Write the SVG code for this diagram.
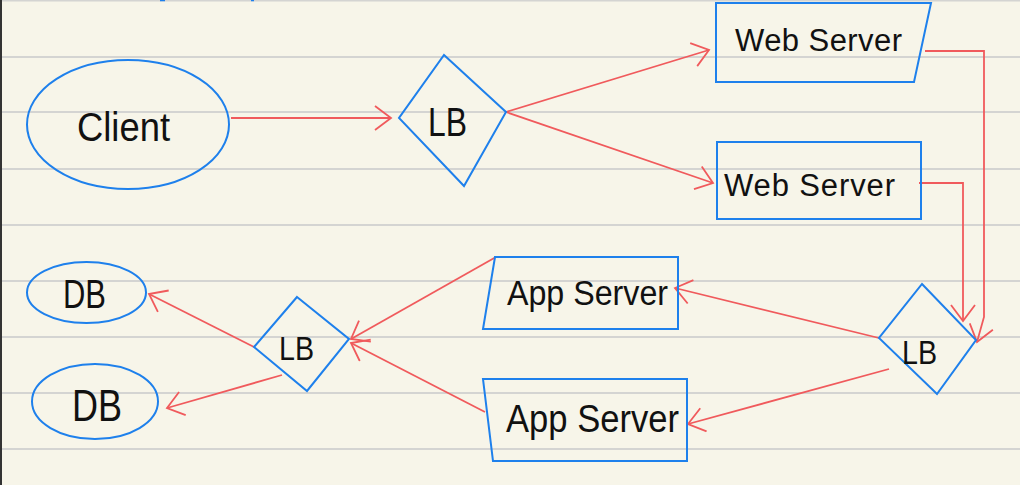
<svg xmlns="http://www.w3.org/2000/svg" width="1020" height="485" viewBox="0 0 1020 485">
  <style>
    .bg { fill: #f7f5e9; }
    .rule { stroke: #d4d4d2; stroke-width: 2; fill: none; }
    .shape { fill: none; stroke: #1e80ec; stroke-width: 2; stroke-linejoin: miter; }
    .conn { fill: none; stroke: #f05a5c; stroke-width: 1.8; }
    .label { font-family: "Liberation Sans", "DejaVu Sans", sans-serif; fill: #111; }
  </style>
  <defs>
    <marker id="arrow" viewBox="0 0 20 26" refX="18" refY="13" markerWidth="20" markerHeight="26" markerUnits="userSpaceOnUse" orient="auto">
      <path d="M2,1 L18,13 L2,25" fill="none" stroke="#f05a5c" stroke-width="1.8"/>
    </marker>
  </defs>

  <!-- paper -->
  <rect class="bg" x="0" y="0" width="1020" height="485"/>
  <g id="paper-lines">
    <line class="rule" x1="2" y1="0.5" x2="1020" y2="0.5"/>
    <line class="rule" x1="2" y1="57" x2="1020" y2="57"/>
    <line class="rule" x1="2" y1="112" x2="1020" y2="112"/>
    <line class="rule" x1="2" y1="169" x2="1020" y2="169"/>
    <line class="rule" x1="2" y1="225" x2="1020" y2="225"/>
    <line class="rule" x1="2" y1="281" x2="1020" y2="281"/>
    <line class="rule" x1="2" y1="337" x2="1020" y2="337"/>
    <line class="rule" x1="2" y1="393" x2="1020" y2="393"/>
    <line class="rule" x1="2" y1="449" x2="1020" y2="449"/>
    <line x1="1" y1="0" x2="1" y2="485" stroke="#333" stroke-width="2"/>
    <line x1="160" y1="0.5" x2="165" y2="0.5" stroke="#1e80ec" stroke-width="1.5"/>
    <line x1="251" y1="0.5" x2="254" y2="0.5" stroke="#1e80ec" stroke-width="1.5"/>
  </g>

  <!-- connectors -->
  <g id="connectors">
    <line class="conn" x1="231" y1="118" x2="391" y2="118" marker-end="url(#arrow)"/>
    <line class="conn" x1="506" y1="112" x2="709" y2="50" marker-end="url(#arrow)"/>
    <line class="conn" x1="506" y1="112" x2="713" y2="183" marker-end="url(#arrow)"/>
    <polyline class="conn" points="925,51 984,51 984,317 977,342" marker-end="url(#arrow)"/>
    <polyline class="conn" points="919,183 963,183 963,321" marker-end="url(#arrow)"/>
    <line class="conn" x1="879" y1="338" x2="675" y2="288" marker-end="url(#arrow)"/>
    <line class="conn" x1="889" y1="369" x2="688" y2="424" marker-end="url(#arrow)"/>
    <line class="conn" x1="496" y1="257" x2="351" y2="339" marker-end="url(#arrow)"/>
    <line class="conn" x1="485" y1="412" x2="351" y2="343" marker-end="url(#arrow)"/>
    <line class="conn" x1="254" y1="347" x2="149" y2="294" marker-end="url(#arrow)"/>
    <line class="conn" x1="282" y1="375" x2="167" y2="408" marker-end="url(#arrow)"/>
  </g>

  <!-- nodes -->
  <g id="client">
    <ellipse class="shape" cx="128" cy="124.5" rx="101" ry="64.5"/>
    <text class="label" x="77" y="141" font-size="40" textLength="93" lengthAdjust="spacingAndGlyphs">Client</text>
  </g>

  <g id="lb1">
    <polygon class="shape" points="444,55 506,112 464,186 399,118"/>
    <text class="label" x="428" y="136" font-size="40" textLength="39" lengthAdjust="spacingAndGlyphs">LB</text>
  </g>

  <g id="web-server-1">
    <polygon class="shape" points="716,3 931,3 914,82 716,82"/>
    <text class="label" x="735" y="51" font-size="31" textLength="167" lengthAdjust="spacing">Web Server</text>
  </g>

  <g id="web-server-2">
    <rect class="shape" x="717" y="142" width="204" height="77"/>
    <text class="label" x="724" y="196" font-size="31" textLength="171" lengthAdjust="spacing">Web Server</text>
  </g>

  <g id="lb3">
    <polygon class="shape" points="922,284 976,340 937,394 879,338"/>
    <text class="label" x="902" y="364" font-size="34" textLength="35" lengthAdjust="spacingAndGlyphs">LB</text>
  </g>

  <g id="app-server-1">
    <polygon class="shape" points="495,257 678,257 678,329 483,329"/>
    <text class="label" x="507" y="305" font-size="35" textLength="161" lengthAdjust="spacingAndGlyphs">App Server</text>
  </g>

  <g id="app-server-2">
    <polygon class="shape" points="483,379 687,379 687,461 493,461"/>
    <text class="label" x="506" y="432" font-size="38" textLength="173" lengthAdjust="spacingAndGlyphs">App Server</text>
  </g>

  <g id="lb2">
    <polygon class="shape" points="297,297 349,339 307,391 254,347"/>
    <text class="label" x="279" y="360" font-size="34" textLength="35" lengthAdjust="spacingAndGlyphs">LB</text>
  </g>

  <g id="db1">
    <ellipse class="shape" cx="86.5" cy="292.5" rx="59.5" ry="30.5"/>
    <text class="label" x="63" y="308" font-size="40" textLength="43" lengthAdjust="spacingAndGlyphs">DB</text>
  </g>

  <g id="db2">
    <ellipse class="shape" cx="95" cy="401.5" rx="63" ry="37.5"/>
    <text class="label" x="72" y="421" font-size="44" textLength="50" lengthAdjust="spacingAndGlyphs">DB</text>
  </g>
</svg>
